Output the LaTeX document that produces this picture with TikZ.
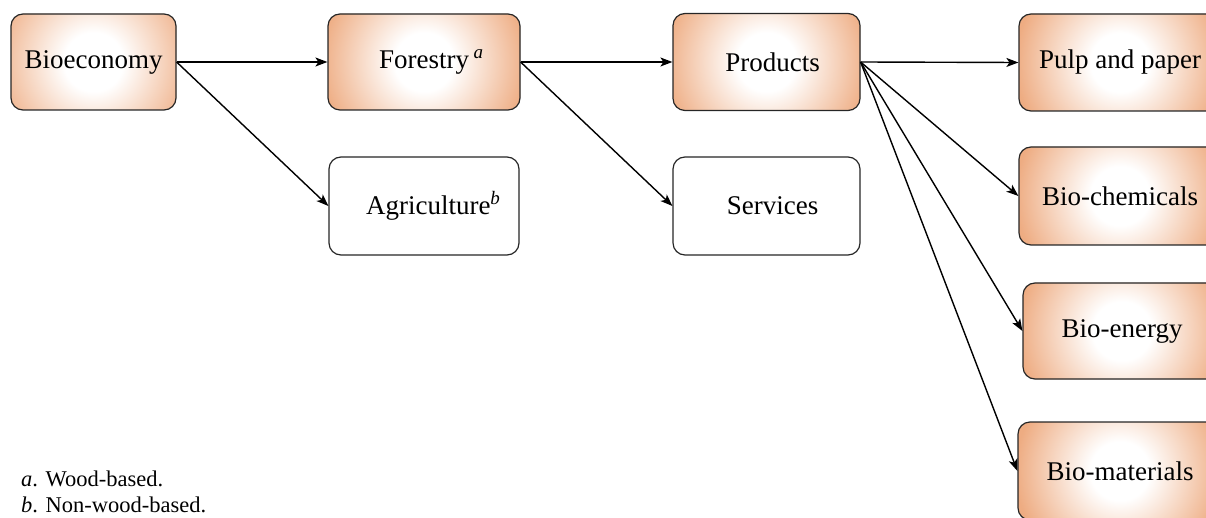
\documentclass[tikz,border=0pt]{standalone}
\usepackage{fontspec}
\setmainfont{Liberation Serif}
\usetikzlibrary{arrows.meta}
\definecolor{boxor}{RGB}{238,172,130}
\pgfdeclareradialshading{boxglow}{\pgfpoint{0bp}{0bp}}{color(0bp)=(white); color(7bp)=(white); color(25bp)=(boxor); color(50bp)=(boxor)}
\newcommand{\supmark}[1]{\raisebox{10pt}{\fontsize{19}{19}\selectfont\itshape #1}}
\begin{document}
\begin{tikzpicture}[x=1pt,y=-1pt,
  box/.style={draw=black!85, line width=1.2pt, rounded corners=12pt, inner sep=0pt, font=\fontsize{27}{32}\selectfont},
  hot/.style={box, fill=boxor, path picture={\shade[shading=boxglow] (path picture bounding box.center) circle (105pt);}},
  plain/.style={box, fill=white},
  conn/.style={line width=1.4pt, -{Stealth[length=12pt,width=9pt,inset=3pt]}},
  note/.style={anchor=base west, inner sep=0pt, font=\fontsize{22.5}{26}\selectfont}]
\useasboundingbox (0,0) rectangle (1206,518);
\clip (0,0) rectangle (1206,518);
\node[hot, minimum width=165pt, minimum height=96pt] (bio) at (93.5,62) {Bioeconomy};
\node[hot, minimum width=192pt, minimum height=96pt] (forest) at (424,62) {\hspace*{14pt}Forestry\,\supmark{a}};
\node[plain, minimum width=190pt, minimum height=98pt] (agri) at (424,206) {\hspace*{18pt}Agriculture\supmark{b}};
\node[hot, minimum width=187pt, minimum height=97pt] (prod) at (766.5,62) {\hspace*{12pt}Products};
\node[plain, minimum width=187pt, minimum height=98pt] (serv) at (766.5,206) {\hspace*{12pt}Services};
\node[hot, minimum width=202pt, minimum height=97pt] (pulp) at (1120,62.5) {Pulp and paper};
\node[hot, minimum width=202pt, minimum height=98pt] (chem) at (1120,196) {Bio-chemicals};
\node[hot, minimum width=198pt, minimum height=96pt] (energy) at (1122,331) {Bio-energy};
\node[hot, minimum width=204pt, minimum height=98pt] (mat) at (1120,471) {Bio-materials};
\draw[conn] (bio.east) -- (forest.west);
\draw[conn] (bio.east) -- (agri.west);
\draw[conn] (forest.east) -- (prod.west);
\draw[conn] (forest.east) -- (serv.west);
\draw[conn] (prod.east) -- (pulp.west);
\draw[conn] (prod.east) -- (chem.west);
\draw[conn] (prod.east) -- (energy.west);
\draw[conn] (prod.east) -- (mat.west);
\node[note] (fa) at (21,486) {\textit{a}. Wood-based.};
\node[note] (fb) at (21,512) {\textit{b}. Non-wood-based.};
\end{tikzpicture}
\end{document}
